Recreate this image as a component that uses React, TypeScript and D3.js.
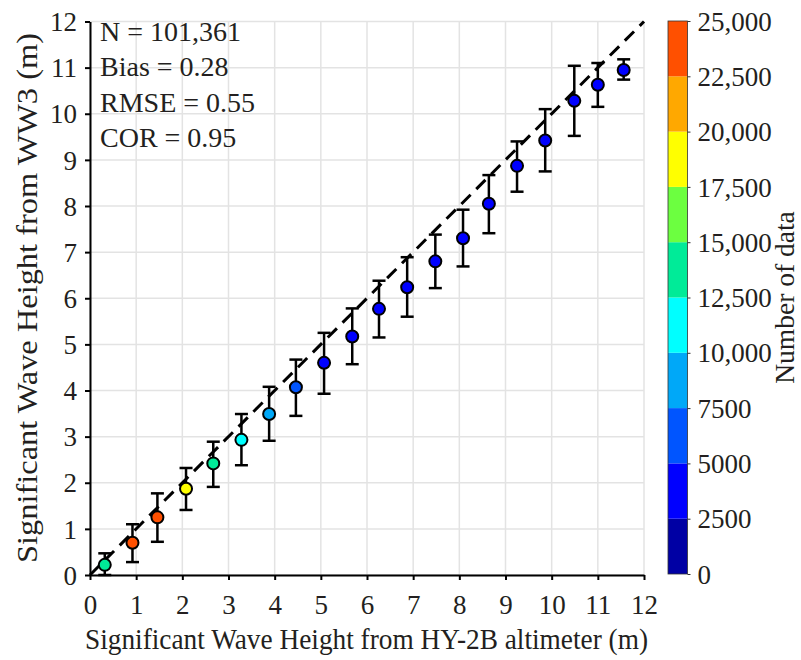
import React, { useEffect, useRef } from 'react';
import * as d3 from 'd3';

// binned comparison, altimeter (x) vs model (y)
const altimeterHs = [0.32, 0.92, 1.46, 2.08, 2.67, 3.28, 3.88, 4.46, 5.07, 5.68, 6.26, 6.87, 7.48, 8.08, 8.64, 9.25, 9.86, 10.49, 11.0, 11.56];
const modelHs = [0.22, 0.7, 1.25, 1.87, 2.42, 2.93, 3.49, 4.07, 4.6, 5.17, 5.77, 6.24, 6.8, 7.3, 8.05, 8.87, 9.42, 10.28, 10.63, 10.95];
const modelLow = [0.0, 0.28, 0.72, 1.41, 1.91, 2.38, 2.91, 3.45, 3.93, 4.57, 5.15, 5.6, 6.22, 6.69, 7.41, 8.31, 8.75, 9.52, 10.15, 10.74];
const modelHigh = [0.47, 1.1, 1.77, 2.32, 2.89, 3.49, 4.08, 4.67, 5.25, 5.78, 6.38, 6.89, 7.38, 7.92, 8.67, 9.4, 10.1, 11.04, 11.1, 11.18];
const counts = [13500, 23500, 23200, 18800, 13800, 11000, 8800, 6200, 4200, 3900, 3600, 3400, 3200, 3000, 2900, 2800, 2700, 2600, 2600, 2550];

const statsLines = ['N = 101,361', 'Bias = 0.28', 'RMSE = 0.55', 'COR = 0.95'];
const axisTicks = d3.range(0, 13);
const colorBreaks = [2500, 5000, 7500, 10000, 12500, 15000, 17500, 20000, 22500];
const colorBins = ['#0000a4', '#0000ff', '#0055ff', '#00a8f8', '#00ffff', '#00eb98', '#6cff40', '#ffff00', '#ffa800', '#ff5000'];
const colorTicks = d3.range(0, 25001, 2500);

const FONT = '"Liberation Serif", "Times New Roman", serif';
const INK = '#231f20';

const App = () => {
  const svgRef = useRef<SVGSVGElement | null>(null);

  useEffect(() => {
    const svg = d3.select(svgRef.current);
    svg.selectAll('*').remove();

    const x = d3.scaleLinear().domain([0, 12]).range([90, 644]);
    const y = d3.scaleLinear().domain([0, 12]).range([575, 21.5]);
    const color = d3.scaleThreshold<number, string>().domain(colorBreaks).range(colorBins);

    // grid
    const grid = svg.append('g').attr('stroke', '#e3e3e3').attr('stroke-width', 1.5);
    axisTicks.forEach(t => {
      grid.append('line').attr('x1', x(t)).attr('x2', x(t)).attr('y1', y(0)).attr('y2', y(12));
      grid.append('line').attr('x1', x(0)).attr('x2', x(12)).attr('y1', y(t)).attr('y2', y(t));
    });

    // 1:1 line
    svg.append('line')
      .attr('x1', x(0)).attr('y1', y(0))
      .attr('x2', x(12)).attr('y2', y(12))
      .attr('stroke', '#000')
      .attr('stroke-width', 3)
      .attr('stroke-dasharray', '13,8');

    // axes
    const xAxis = svg.append('g')
      .attr('transform', `translate(0,${y(0)})`)
      .call(d3.axisBottom(x).tickValues(axisTicks).tickSize(5).tickSizeOuter(0).tickPadding(8));
    const yAxis = svg.append('g')
      .attr('transform', `translate(${x(0)},0)`)
      .call(d3.axisLeft(y).tickValues(axisTicks).tickSize(5).tickSizeOuter(0).tickPadding(8));

    [xAxis, yAxis].forEach(ax => {
      ax.select('path.domain').attr('stroke', '#000').attr('stroke-width', 2);
      ax.selectAll('.tick line').attr('stroke', '#000').attr('stroke-width', 2);
      ax.selectAll('.tick text')
        .attr('fill', INK)
        .style('font-family', FONT)
        .style('font-size', '27px');
    });
    xAxis.selectAll('.tick text').attr('y', 39).attr('dy', 0);
    yAxis.selectAll('.tick text').attr('dy', '0.34em');

    // error bars + points
    const pts = altimeterHs.map((v, i) => ({
      x: v, y: modelHs[i], lo: modelLow[i], hi: modelHigh[i], n: counts[i],
    }));
    const cap = 6.5;
    const eb = svg.append('g').attr('stroke', '#000').attr('stroke-width', 2.5);
    pts.forEach(d => {
      eb.append('line').attr('x1', x(d.x)).attr('x2', x(d.x)).attr('y1', y(d.lo)).attr('y2', y(d.hi));
      eb.append('line').attr('x1', x(d.x) - cap).attr('x2', x(d.x) + cap).attr('y1', y(d.lo)).attr('y2', y(d.lo));
      eb.append('line').attr('x1', x(d.x) - cap).attr('x2', x(d.x) + cap).attr('y1', y(d.hi)).attr('y2', y(d.hi));
    });
    svg.append('g')
      .selectAll('circle')
      .data(pts)
      .join('circle')
      .attr('cx', d => x(d.x))
      .attr('cy', d => y(d.y))
      .attr('r', 6)
      .attr('fill', d => color(d.n))
      .attr('stroke', '#000')
      .attr('stroke-width', 2);

    // stats text
    const stats = svg.append('g')
      .style('font-family', FONT)
      .style('font-size', '28px')
      .attr('fill', INK);
    statsLines.forEach((s, i) => {
      stats.append('text').attr('x', 100).attr('y', 40.5 + i * 35.6).text(s);
    });

    // axis titles
    svg.append('text')
      .attr('x', 85)
      .attr('y', 649)
      .attr('textLength', 563)
      .attr('lengthAdjust', 'spacingAndGlyphs')
      .attr('fill', INK)
      .style('font-family', FONT)
      .style('font-size', '30px')
      .text('Significant Wave Height from HY-2B altimeter (m)');

    svg.append('text')
      .attr('transform', `translate(37,563) rotate(-90)`)
      .attr('textLength', 530)
      .attr('lengthAdjust', 'spacingAndGlyphs')
      .attr('fill', INK)
      .style('font-family', FONT)
      .style('font-size', '30px')
      .text('Significant Wave Height from WW3 (m)');

    // colorbar
    const cb = d3.scaleLinear().domain([0, 25000]).range([574, 21]);
    const cbX = 668;
    const cbW = 19.5;
    const bars = svg.append('g');
    colorBins.forEach((c, i) => {
      bars.append('rect')
        .attr('x', cbX)
        .attr('y', cb((i + 1) * 2500))
        .attr('width', cbW)
        .attr('height', cb(i * 2500) - cb((i + 1) * 2500))
        .attr('fill', c);
    });
    bars.append('rect')
      .attr('x', cbX).attr('y', cb(25000))
      .attr('width', cbW).attr('height', cb(0) - cb(25000))
      .attr('fill', 'none').attr('stroke', '#333').attr('stroke-width', 0.8);

    const cbAxis = svg.append('g')
      .attr('transform', `translate(${cbX + cbW},0)`)
      .call(d3.axisRight(cb).tickValues(colorTicks).tickSize(3).tickSizeOuter(0).tickPadding(7)
        .tickFormat(d => (+d >= 10000 ? d3.format(',')(+d) : String(d))));
    cbAxis.select('path.domain').remove();
    cbAxis.selectAll('.tick line').attr('stroke', '#333');
    cbAxis.selectAll('.tick text')
      .attr('fill', INK)
      .attr('dy', '0.34em')
      .style('font-family', FONT)
      .style('font-size', '27px');

    svg.append('text')
      .attr('transform', `translate(794,${(cb(0) + cb(25000)) / 2}) rotate(-90)`)
      .attr('text-anchor', 'middle')
      .attr('fill', INK)
      .style('font-family', FONT)
      .style('font-size', '27.5px')
      .text('Number of data');
  }, []);

  return (
    <div style={{ position: 'absolute', left: 0, top: 0 }}>
      <svg ref={svgRef} width={801} height={660} style={{ display: 'block', background: '#fff' }}></svg>
    </div>
  );
};

export default App;
